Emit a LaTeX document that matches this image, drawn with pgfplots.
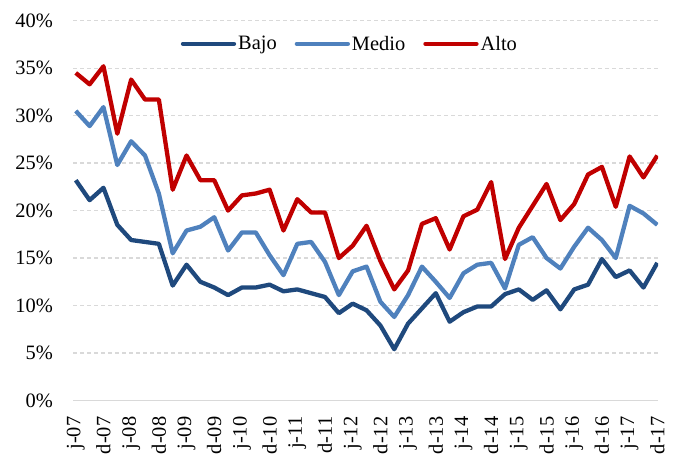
\documentclass[border=0pt]{standalone}
\usepackage{fontspec}
\setmainfont{Liberation Serif}
\usepackage{pgfplots}
\usepackage{pgfplotstable}
\pgfplotsset{compat=1.18}
\definecolor{bajo}{RGB}{31,73,125}
\definecolor{medio}{RGB}{79,129,189}
\definecolor{alto}{RGB}{192,0,0}
\definecolor{gridgray}{RGB}{217,217,217}

% quarterly, jun-07 .. dic-17 (in %)
\pgfplotstableread{
i  bajo medio alto
0  23.2 30.5 34.5
1  21.1 28.9 33.3
2  22.4 30.9 35.2
3  18.5 24.8 28.1
4  16.9 27.3 33.8
5  16.7 25.8 31.7
6  16.5 21.8 31.7
7  12.1 15.5 22.2
8  14.3 17.9 25.8
9  12.5 18.3 23.2
10 11.9 19.3 23.2
11 11.1 15.8 20.0
12 11.9 17.7 21.6
13 11.9 17.7 21.8
14 12.2 15.3 22.2
15 11.5 13.2 17.9
16 11.7 16.5 21.2
17 11.3 16.7 19.8
18 10.9 14.6 19.8
19 9.2  11.1 15.0
20 10.2 13.6 16.3
21 9.5  14.1 18.4
22 7.9  10.4 14.7
23 5.4  8.8  11.7
24 8.1  11.1 13.7
25 9.7  14.1 18.6
26 11.3 12.5 19.2
27 8.3  10.8 15.9
28 9.3  13.4 19.4
29 9.9  14.3 20.1
30 9.9  14.5 23.0
31 11.2 11.8 14.9
32 11.7 16.4 18.2
33 10.6 17.2 20.5
34 11.6 15.0 22.8
35 9.6  13.9 19.0
36 11.7 16.2 20.7
37 12.2 18.2 23.8
38 14.9 16.9 24.6
39 13.0 15.0 20.4
40 13.7 20.5 25.7
41 11.9 19.7 23.5
42 14.5 18.5 25.8
}\datos

\begin{document}
\begin{tikzpicture}
\begin{axis}[
  name=ax,
  scale only axis,
  width=585bp, height=379.8bp,
  xmin=-0.2, xmax=42.05,
  ymin=0, ymax=40,
  xtick={0,2,...,42},
  xticklabels={j-07,d-07,j-08,d-08,j-09,d-09,j-10,d-10,j-11,d-11,j-12,d-12,j-13,d-13,j-14,d-14,j-15,d-15,j-16,d-16,j-17,d-17},
  ytick={0,5,...,40},
  yticklabels={0\%,5\%,10\%,15\%,20\%,25\%,30\%,35\%,40\%},
  tick label style={font=\fontsize{20.5}{24}\selectfont, inner sep=0pt},
  xticklabel style={rotate=90, anchor=east},
  xticklabel shift=16bp,
  yticklabel shift=20bp,
  tick style={draw=none},
  axis x line*=bottom,
  axis y line*=left,
  x axis line style={draw=gridgray, line width=1.3bp},
  y axis line style={draw=none},
  ymajorgrids=true,
  grid style={draw=gridgray, line width=1.3bp, dash pattern=on 4.3bp off 2.7bp},
  every axis plot/.append style={line width=4.3bp, line join=round, no markers},
  legend columns=3,
  legend style={draw=none, fill=none, at={(0.184,0.939)}, anchor=west,
    font=\fontsize{20.5}{24}\selectfont, inner xsep=0pt,
    /tikz/every even column/.append style={column sep=16bp}},
  legend image code/.code={\draw[#1, line cap=round] (0bp,0bp) -- (51bp,0bp);},
]
\addplot[bajo] table[x=i, y=bajo] {\datos};
\addlegendentry{Bajo}
\addplot[medio] table[x=i, y=medio] {\datos};
\addlegendentry{Medio}
\addplot[alto] table[x=i, y=alto] {\datos};
\addlegendentry{Alto}
\end{axis}
\path ([xshift=-73bp, yshift=20.7bp]ax.north west) rectangle ([xshift=20bp]ax.south east);
\end{tikzpicture}
\end{document}
